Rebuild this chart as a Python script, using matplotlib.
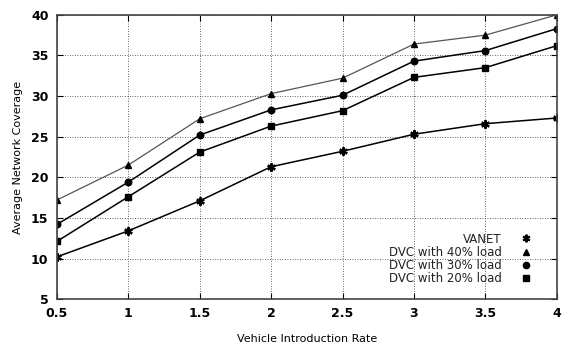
import matplotlib
matplotlib.use("Agg")
import matplotlib.pyplot as plt
from matplotlib.lines import Line2D

rate = [0.5, 1, 1.5, 2, 2.5, 3, 3.5, 4]
vanet = [10.2, 13.4, 17.1, 21.3, 23.2, 25.3, 26.6, 27.3]
dvc40 = [17.2, 21.5, 27.2, 30.3, 32.2, 36.4, 37.5, 40.0]
dvc30 = [14.2, 19.4, 25.2, 28.3, 30.1, 34.3, 35.6, 38.3]
dvc20 = [12.1, 17.6, 23.1, 26.3, 28.2, 32.3, 33.5, 36.2]
xticks = [0.5, 1, 1.5, 2, 2.5, 3, 3.5, 4]
yticks = [5, 10, 15, 20, 25, 30, 35, 40]

fig = plt.figure(figsize=(5.63, 3.45), dpi=100)
ax = fig.add_axes([0.101, 0.133, 0.888, 0.824])

ax.plot(rate, dvc40, color='#555555', lw=0.9, marker='^', ms=4.5, mfc='black', mec='black')
ax.plot(rate, dvc30, color='black', lw=1.1, marker='o', ms=4.7)
ax.plot(rate, dvc20, color='black', lw=1.1, marker='s', ms=4.5)
ax.plot(rate, vanet, color='black', lw=1.1, marker=(6, 2, 0), ms=6, mew=1.6)

ax.set_xlim(0.5, 4)
ax.set_ylim(5, 40)
ax.set_xticks(xticks)
ax.set_xticklabels(['0.5', '1', '1.5', '2', '2.5', '3', '3.5', '4'])
ax.set_yticks(yticks)
ax.tick_params(direction='in', top=True, right=True, length=4, labelsize=9, pad=6)
for lab in ax.get_xticklabels() + ax.get_yticklabels():
    lab.set_fontweight('bold')
ax.grid(True, color='#333333', linestyle=(0, (1, 2)), linewidth=0.6)
for s in ax.spines.values():
    s.set_color('#444444')
    s.set_linewidth(1.2)

ax.set_xlabel('Vehicle Introduction Rate', fontsize=8, labelpad=10)
ax.set_ylabel('Average Network Coverage', fontsize=8, labelpad=6)

handles = [
    Line2D([], [], ls='none', marker=(6, 2, 0), color='black', ms=5.5, mew=1.5),
    Line2D([], [], ls='none', marker='^', color='black', ms=4),
    Line2D([], [], ls='none', marker='o', color='black', ms=4.5),
    Line2D([], [], ls='none', marker='s', color='black', ms=4.5),
]
labels = ['VANET', 'DVC with 40% load', 'DVC with 30% load', 'DVC with 20% load']
leg = ax.legend(handles, labels, loc='lower right', bbox_to_anchor=(0.968, 0.028),
                frameon=False, markerfirst=False, fontsize=8.5, labelspacing=0.02,
                handletextpad=1.3, handlelength=1.5, borderpad=0)
for t in leg.get_texts():
    t.set_ha('right')
    t.set_color('#222222')

fig.savefig('out.png', dpi=100)
